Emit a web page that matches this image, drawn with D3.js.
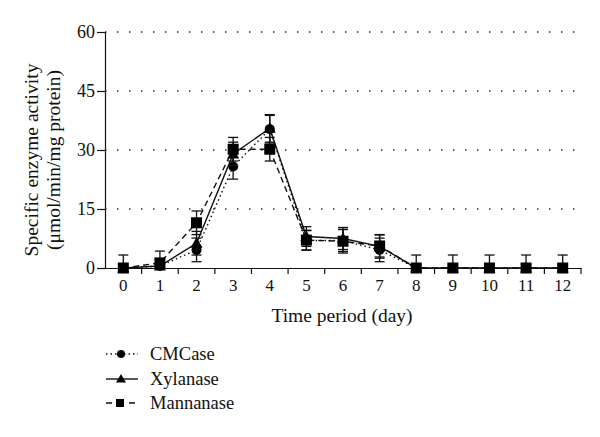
<!DOCTYPE html>
<html><head><meta charset="utf-8">
<script src="https://cdn.jsdelivr.net/npm/d3@7"></script>
<style>body{margin:0;background:#fff}svg{display:block}text{font-family:"Liberation Serif","DejaVu Serif",serif;fill:#111}</style>
</head><body><svg id="c" width="600" height="437"></svg>
<script>
const days = ["0","1","2","3","4","5","6","7","8","9","10","11","12"];
const yTicks = [0,15,30,45,60];
const cmcase = [0,0.5,4.6,25.8,35.3,7.0,7.0,4.6,0,0,0,0,0];
const cmcaseErr = [0,0,3,3.2,3.5,2.5,2.8,3,0,0,0,0,0];
const xylanase = [0,0.5,6.3,29.0,35.5,8.0,7.5,5.5,0,0,0,0,0];
const xylanaseErr = [0,0,3,3,3.5,2.5,2.8,3,0,0,0,0,0];
const mannanase = [0,1.3,11.5,30.2,30.2,7.1,6.8,5.6,0,0,0,0,0];
const mannanaseErr = [3.3,3,3,3,3,2.5,3,2.8,3.3,3.3,3.3,3.3,3.3];
const seriesNames = ["CMCase","Xylanase","Mannanase"];

const svg = d3.select("#c");
const x = d3.scaleBand().domain(days).range([105,581]);
const y = d3.scaleLinear().domain([0,60]).range([268,32]);
const cx = d => x(d)+x.bandwidth()/2;
const FF = "Liberation Serif";

// grid
svg.append("g").selectAll("line").data(yTicks.filter(v=>v>0)).join("line")
  .attr("x1",105).attr("x2",581).attr("y1",d=>y(d)).attr("y2",d=>y(d))
  .attr("stroke","#333").attr("stroke-width",1.3).attr("stroke-dasharray","1.5,10.5");

// y axis
const ya = svg.append("g").attr("transform","translate(105,0)")
  .call(d3.axisLeft(y).tickValues(yTicks).tickSize(8).tickPadding(2));
ya.attr("font-family",FF).attr("font-size",18);
ya.select(".domain").attr("stroke","#111").attr("stroke-width",1.2);
ya.selectAll(".tick line").attr("stroke","#111").attr("stroke-width",1.2);
ya.selectAll("text").attr("fill","#111");

// x axis
const xa = svg.append("g").attr("transform","translate(0,268)")
  .call(d3.axisBottom(x).tickSize(0).tickPadding(11));
xa.attr("font-family",FF).attr("font-size",17);
xa.select(".domain").attr("stroke","#111").attr("stroke-width",1.2);
xa.selectAll("text").attr("fill","#111");
xa.append("g").selectAll("line").data(days.slice(1)).join("line")
  .attr("x1",d=>x(d)).attr("x2",d=>x(d)).attr("y1",0).attr("y2",6)
  .attr("stroke","#111").attr("stroke-width",1.2);
xa.append("line").attr("x1",581).attr("x2",581).attr("y1",0).attr("y2",6).attr("stroke","#111").attr("stroke-width",1.2);

// titles
svg.append("text").attr("x",342).attr("y",322).attr("text-anchor","middle").attr("font-size",19.5).text("Time period (day)");
const yt = svg.append("text").attr("transform","translate(0,160) rotate(-90)").attr("text-anchor","middle").attr("font-size",19.5);
yt.append("tspan").attr("x",0).attr("y",38).text("Specific enzyme activity");
yt.append("tspan").attr("x",0).attr("y",60).text("(\u03bcmol/min/mg protein)");

const series = [
  {name:"CMCase", v:cmcase, e:cmcaseErr, dash:"1.5,3", shape:"circle"},
  {name:"Xylanase", v:xylanase, e:xylanaseErr, dash:null, shape:"triangle"},
  {name:"Mannanase", v:mannanase, e:mannanaseErr, dash:"6,4", shape:"square"}
];

function drawMarker(g, shape, px, py){
  if(shape==="circle") g.append("circle").attr("cx",px).attr("cy",py).attr("r",5).attr("fill","#000");
  else if(shape==="square") g.append("rect").attr("x",px-5.5).attr("y",py-5.5).attr("width",11).attr("height",11).attr("fill","#000");
  else g.append("path").attr("d",`M${px},${py-6}L${px+6},${py+4.5}L${px-6},${py+4.5}Z`).attr("fill","#000");
}

const line = d3.line().x((d,i)=>cx(days[i])).y(d=>y(d));
series.forEach(s=>{
  const g = svg.append("g");
  s.v.forEach((v,i)=>{
    if(!s.e[i]) return;
    const px = cx(days[i]);
    const top = y(v+s.e[i]), bot = y(Math.max(0,v-s.e[i]));
    g.append("line").attr("x1",px).attr("x2",px).attr("y1",top).attr("y2",bot).attr("stroke","#111").attr("stroke-width",1.3);
    g.append("line").attr("x1",px-5).attr("x2",px+5).attr("y1",top).attr("y2",top).attr("stroke","#111").attr("stroke-width",1.3);
    if(v-s.e[i]>0) g.append("line").attr("x1",px-5).attr("x2",px+5).attr("y1",bot).attr("y2",bot).attr("stroke","#111").attr("stroke-width",1.3);
  });
  g.append("path").attr("d",line(s.v)).attr("fill","none").attr("stroke","#111").attr("stroke-width",1.4)
    .attr("stroke-dasharray",s.dash);
  s.v.forEach((v,i)=>drawMarker(g,s.shape,cx(days[i]),y(v)));
});

// legend
const ly = [354,379,403];
series.forEach((s,i)=>{
  const g = svg.append("g");
  g.append("line").attr("x1",106).attr("x2",138).attr("y1",ly[i]).attr("y2",ly[i])
    .attr("stroke","#111").attr("stroke-width",1.4).attr("stroke-dasharray",s.dash ? (s.shape==="circle"?"1.5,3":"6,5.5"):null);
  if(s.shape==="square") g.append("rect").attr("x",116).attr("y",ly[i]-4).attr("width",8).attr("height",8).attr("fill","#000");
  else if(s.shape==="circle") g.append("circle").attr("cx",121).attr("cy",ly[i]).attr("r",4).attr("fill","#000");
  else g.append("path").attr("d",`M121,${ly[i]-5}L126,${ly[i]+3.5}L116,${ly[i]+3.5}Z`).attr("fill","#000");
  g.append("text").attr("x",150).attr("y",ly[i]+6).attr("font-size",18.5).text(s.name);
});
</script></body></html>
